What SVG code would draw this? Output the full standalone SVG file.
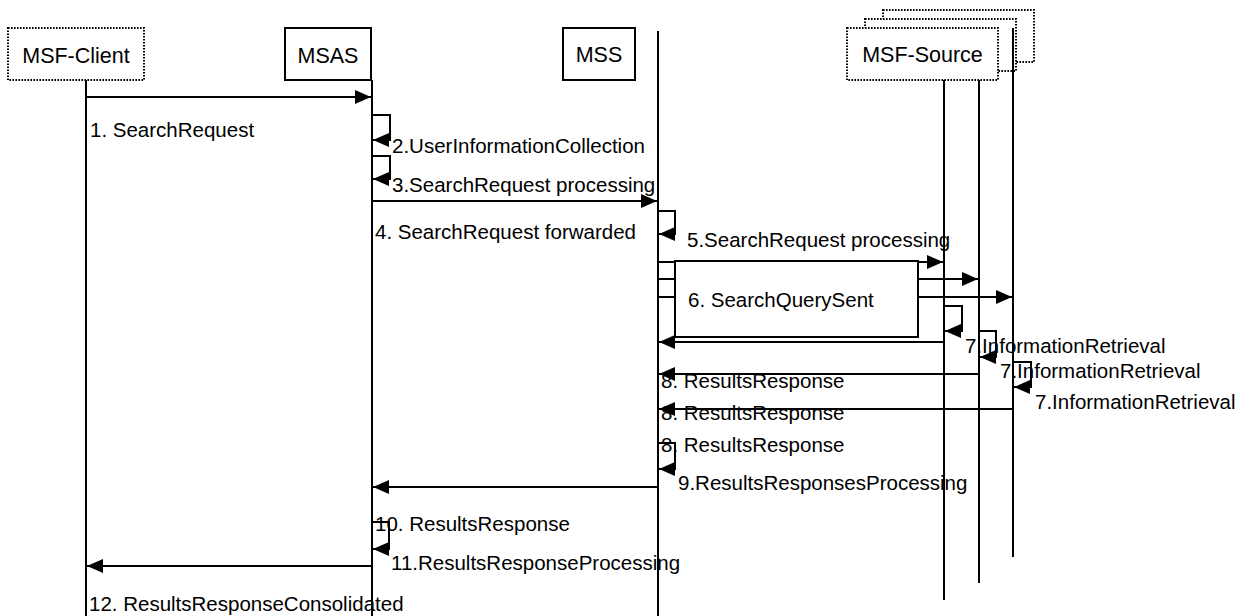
<svg xmlns="http://www.w3.org/2000/svg" width="1246" height="616" viewBox="0 0 1246 616">
<style>
.box{fill:#fff;stroke:#000;stroke-width:2}
.dot{fill:#fff;stroke:#000;stroke-width:2;stroke-dasharray:1.6 1.4}
.hd{font-family:"Liberation Sans",Arial,sans-serif;font-size:21.5px;fill:#000;text-anchor:middle}
.life{stroke:#000;stroke-width:2;fill:none}
.msg{stroke:#000;stroke-width:2;fill:none;marker-end:url(#ah)}
.lbl{font-family:"Liberation Sans",Arial,sans-serif;font-size:20.5px;fill:#000}
</style>
<defs>
<marker id="ah" markerWidth="16" markerHeight="14" refX="16" refY="7" orient="auto" markerUnits="userSpaceOnUse">
<path d="M0,0 L16,7 L0,14 Z" fill="#000"/>
</marker>
</defs>
<rect width="1246" height="616" fill="#fff"/>

<g id="msf-client">
<rect class="dot" x="8" y="28" width="136" height="52"/>
<text class="hd" x="76" y="63">MSF-Client</text>
<line class="life" x1="86" y1="80" x2="86" y2="616"/>
</g>

<g id="msas">
<rect class="box" x="285" y="28" width="86" height="52"/>
<text class="hd" x="328" y="63">MSAS</text>
<line class="life" x1="372" y1="80" x2="372" y2="616"/>
</g>

<g id="mss">
<rect class="box" x="563" y="28" width="72" height="52"/>
<text class="hd" x="599" y="62">MSS</text>
<line class="life" x1="658" y1="31" x2="658" y2="616"/>
</g>

<g id="msf-source">
<rect class="dot" x="883" y="10" width="151" height="52"/>
<rect class="dot" x="865" y="19" width="151" height="52"/>
<rect class="dot" x="847" y="28" width="151" height="52"/>
<text class="hd" x="922.5" y="62">MSF-Source</text>
<line class="life" x1="944" y1="80" x2="944" y2="600"/>
<line class="life" x1="979" y1="80" x2="979" y2="583"/>
<line class="life" x1="1013" y1="28" x2="1013" y2="557"/>
</g>

<g id="connectors">
<path class="msg" d="M86,97 H371"/>
<path class="msg" d="M372,115 H390 V140 H373"/>
<path class="msg" d="M372,156 H390 V179 H373"/>
<path class="msg" d="M372,201 H657"/>
<path class="msg" d="M658,211 H675 V234 H659"/>
<path class="msg" d="M658,262 H943"/>
<path class="msg" d="M658,279 H978"/>
<path class="msg" d="M658,297 H1012"/>
<path class="msg" d="M944,306 H962 V331 H945"/>
<path class="msg" d="M979,331 H996 V357 H980"/>
<path class="msg" d="M1013,362 H1031 V387 H1014"/>
<path class="msg" d="M944,342 H659"/>
<path class="msg" d="M979,374 H659"/>
<path class="msg" d="M1013,409 H659"/>
<path class="msg" d="M658,443 H675 V469 H659"/>
<path class="msg" d="M658,487 H373"/>
<path class="msg" d="M372,522 H389 V549 H373"/>
<path class="msg" d="M372,566 H87"/>
</g>

<g id="search-query-sent">
<rect class="box" x="675" y="261" width="243" height="76"/>
<text class="lbl" x="688" y="307">6. SearchQuerySent</text>
</g>

<g id="labels">
<text class="lbl" x="90" y="137">1. SearchRequest</text>
<text class="lbl" x="392" y="153">2.UserInformationCollection</text>
<text class="lbl" x="392" y="192">3.SearchRequest processing</text>
<text class="lbl" x="375" y="239">4. SearchRequest forwarded</text>
<text class="lbl" x="687" y="247">5.SearchRequest processing</text>
<text class="lbl" x="965" y="353">7.InformationRetrieval</text>
<text class="lbl" x="1000" y="378">7.InformationRetrieval</text>
<text class="lbl" x="1035" y="409">7.InformationRetrieval</text>
<text class="lbl" x="661" y="388">8. ResultsResponse</text>
<text class="lbl" x="661" y="420">8. ResultsResponse</text>
<text class="lbl" x="661" y="452">8. ResultsResponse</text>
<text class="lbl" x="678" y="490">9.ResultsResponsesProcessing</text>
<text class="lbl" x="375" y="531">10. ResultsResponse</text>
<text class="lbl" x="391" y="570">11.ResultsResponseProcessing</text>
<text class="lbl" x="89" y="611">12. ResultsResponseConsolidated</text>
</g>
</svg>
